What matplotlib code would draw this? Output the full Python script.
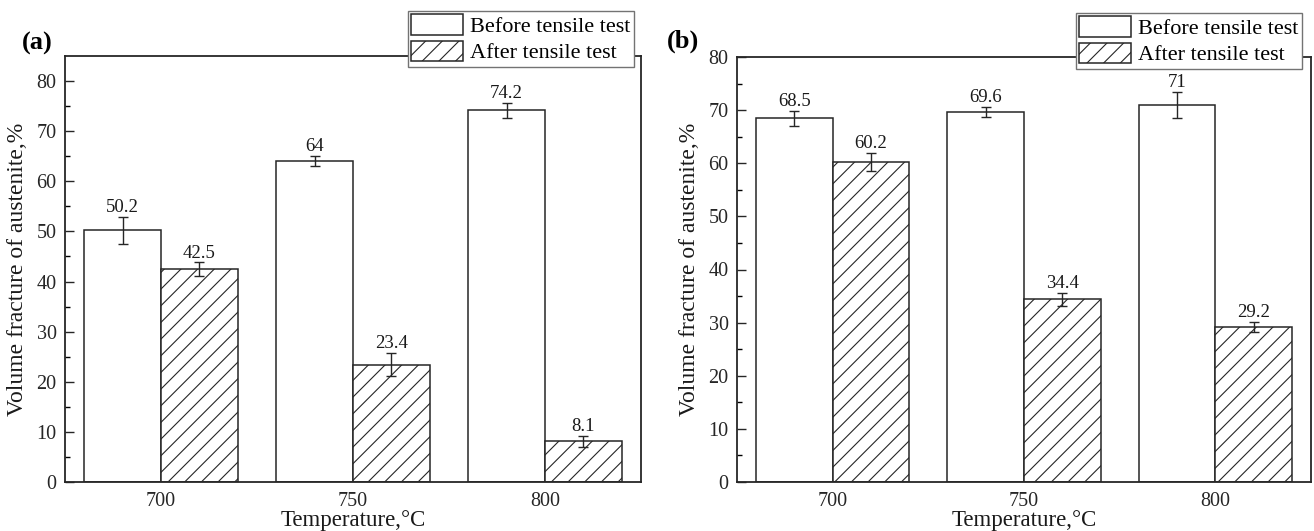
import matplotlib
matplotlib.use("Agg")
import matplotlib.pyplot as plt
import numpy as np

plt.rcParams['font.family'] = ['Liberation Serif', 'DejaVu Serif']
plt.rcParams['hatch.linewidth'] = 0.8
plt.rcParams['hatch.color'] = '0.25'

# data
temps = ['700', '750', '800']
legend_labels = ['Before tensile test', 'After tensile test']

before_a = [50.2, 64, 74.2]
before_a_err = [2.7, 1.0, 1.5]
after_a = [42.5, 23.4, 8.1]
after_a_err = [1.3, 2.3, 1.1]

before_b = [68.5, 69.6, 71]
before_b_err = [1.4, 0.95, 2.5]
after_b = [60.2, 34.4, 29.2]
after_b_err = [1.7, 1.2, 0.9]

W, H = 1314, 531
fig = plt.figure(figsize=(W / 100, H / 100), dpi=100)
ax_a = fig.add_axes([65 / W, 1 - 482 / H, 576 / W, 426 / H])
ax_b = fig.add_axes([737 / W, 1 - 482 / H, 574 / W, 425 / H])


def fmt(v):
    return ('%g' % v)


def draw_panel(ax, before, before_err, after, after_err, ymax, leg_right, leg_top):
    x = np.arange(len(temps))
    w = 0.4
    b1 = ax.bar(x - w / 2, before, w, color='white', edgecolor='0.15', linewidth=1.1,
                label=legend_labels[0])
    b2 = ax.bar(x + w / 2, after, w, color='white', edgecolor='0.15', linewidth=1.1,
                hatch='//', label=legend_labels[1])
    ax.errorbar(x - w / 2, before, yerr=before_err, fmt='none', ecolor='0.15',
                elinewidth=1.0, capsize=3.5, capthick=1.0)
    ax.errorbar(x + w / 2, after, yerr=after_err, fmt='none', ecolor='0.15',
                elinewidth=1.0, capsize=3.5, capthick=1.0)
    for xs, vals, errs in [(x - w / 2, before, before_err), (x + w / 2, after, after_err)]:
        for xi, v, e in zip(xs, vals, errs):
            ax.annotate(fmt(v), (xi, v + e), xytext=(0, 3.5), textcoords='offset points',
                        ha='center', va='baseline', fontsize=13.5, color='0.1')

    ax.set_xlim(-0.5, 2.5)
    ax.set_ylim(0, ymax)
    ax.set_xticks(x)
    ax.set_xticklabels(temps)
    ax.set_yticks(np.arange(0, ymax + 1, 10))
    ax.set_yticks(np.arange(5, ymax, 10), minor=True)
    ax.tick_params(axis='y', which='major', direction='in', length=6.5, width=1.0,
                   labelsize=14.5, pad=6, colors='0.15')
    ax.tick_params(axis='y', which='minor', direction='in', length=3.6, width=1.0)
    ax.tick_params(axis='x', length=0, labelsize=14.5, pad=7, colors='0.15')
    for s in ax.spines.values():
        s.set_linewidth(1.3)
        s.set_color('0.15')

    ax.set_xlabel('Temperature,°C', fontsize=16.5, labelpad=0, color='0.1')
    ax.xaxis.set_label_coords(0.5, -0.065)
    ax.set_ylabel('Volume fracture of austenite,%', fontsize=17, color='0.1')
    ax.yaxis.set_label_coords(-0.064, 0.5)

    leg = ax.legend(handles=[b1, b2], loc='upper right',
                    bbox_to_anchor=(leg_right / W, 1 - leg_top / H),
                    bbox_transform=fig.transFigure, fontsize=16,
                    fancybox=False, framealpha=1, edgecolor='0.45',
                    handlelength=2.3, handleheight=1.05, handletextpad=0.35,
                    borderpad=0.15, labelspacing=0.15, borderaxespad=0)
    leg.get_frame().set_linewidth(1.0)
    return ax


draw_panel(ax_a, before_a, before_a_err, after_a, after_a_err, 85, 634, 11)
draw_panel(ax_b, before_b, before_b_err, after_b, after_b_err, 80, 1302, 13)

fig.text(22 / W, 1 - 43 / H, '(a)', fontsize=19, fontweight='bold', va='center', ha='left')
fig.text(667 / W, 1 - 41 / H, '(b)', fontsize=19, fontweight='bold', va='center', ha='left')

fig.savefig('out.png', dpi=100, facecolor='white')
